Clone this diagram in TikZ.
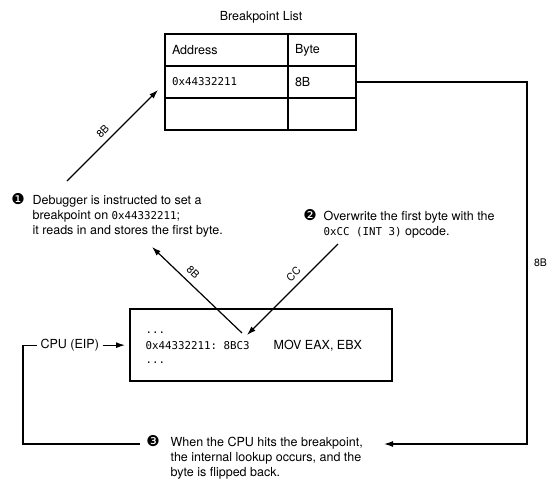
\documentclass[tikz,border=0pt]{standalone}
\usepackage{fontspec}
\setmainfont{TeX Gyre Heros}
\newfontfamily\monofam{DejaVu Sans Mono}
\newfontfamily\symfam{DejaVu Sans}
\usetikzlibrary{arrows.meta,calc}
\newcommand\mn[1]{{\monofam\fontsize{10.8}{15}\selectfont #1}}
\begin{document}
\begin{tikzpicture}[x=1pt,y=-1pt,
  line width=1.2pt,
  arr/.style={-{Latex[length=9pt,width=6pt]}},
  body/.style={font=\fontsize{12.5}{15}\selectfont, inner sep=0pt},
  cell/.style={draw, outer sep=0pt, minimum height=32pt, anchor=north west, inner xsep=7pt, align=left, font=\fontsize{12.5}{15}\selectfont},
  code/.style={font=\monofam\fontsize{10.8}{12}\selectfont, inner sep=0pt, anchor=base west},
  lab/.style={font=\fontsize{10.5}{12}\selectfont, inner sep=0.5pt},
  num/.style={font=\symfam\fontsize{15}{15}\selectfont, inner sep=0pt},
]
\useasboundingbox (0,0) rectangle (555,496);

% breakpoint list
\node[body] (title) at (261,17) {Breakpoint List};
\node[cell, text width=109pt] (c11) at (165,34) {Address};
\node[cell, text width=54pt] (c12) at (288,34) {Byte};
\node[cell, text width=109pt] (c21) at (165,66) {\mn{0x44332211}};
\node[cell, text width=54pt] (c22) at (288,66) {8B};
\node[cell, text width=109pt] (c31) at (165,98) {};
\node[cell, text width=54pt] (c32) at (288,98) {};

% code box
\node[draw, outer sep=0pt, minimum width=262pt, minimum height=72pt, anchor=north west, inner sep=0pt] (code) at (130,309) {};
\node[code] (d1) at (145,333) {...};
\node[code] (addr) at (145,349) {0x44332211:};
\node[code] (bc) at (223,349) {8BC3};
\node[body, anchor=base west] (mov) at (273,349) {MOV EAX, EBX};
\node[code] (d2) at (145,363) {...};

% CPU
\node[body, anchor=base west] (cpu) at (40,348.5) {CPU (EIP)};
\draw[arr, shorten <=3pt, shorten >=5pt] (cpu.east) -- (cpu.east -| code.west);

% steps
\node[num] (n1) at (18,199) {❶};
\node[body, anchor=north west, align=left] (s1) at (32,194.4) {Debugger is instructed to set a\\breakpoint on \mn{0x44332211};\\it reads in and stores the first byte.};
\node[num] (n2) at (310,215) {❷};
\node[body, anchor=north west, align=left] (s2) at (323,210.4) {Overwrite the first byte with the\\\mn{0xCC (INT 3)} opcode.};
\node[num] (n3) at (153,441) {❸};
\node[body, anchor=north west, align=left] (s3) at (170,436.4) {When the CPU hits the breakpoint,\\the internal lookup occurs, and the\\byte is flipped back.};

% connectors
\coordinate (a1s) at (67,181);
\coordinate (a1e) at (158,90);
\draw[arr] (a1s) -- node[lab, sloped, above=5pt, pos=0.47] {8B} (a1e);
\coordinate (a2s) at (242,333);
\coordinate (a2e) at (152,247);
\draw[arr] (a2s) -- node[lab, sloped, above=5pt, pos=0.62] {8B} (a2e);
\coordinate (a3s) at (338,244);
\coordinate (a3e) at (247,335);
\draw[arr] (a3s) -- node[lab, sloped, above=5pt, pos=0.41] {CC} (a3e);

\coordinate (rc1) at (527,82);
\coordinate (rc2) at (527,444);
\coordinate (r3) at (384,444);
\draw[arr] (c22.east) -- (rc1) -- node[lab, right=6pt, pos=0.5] {8B} (rc2) -- (r3);

\coordinate (lb) at (23,444);
\coordinate (e3) at (140,444);
\draw ([xshift=-3pt]cpu.west) -| (lb) -- (e3);
\end{tikzpicture}
\end{document}
